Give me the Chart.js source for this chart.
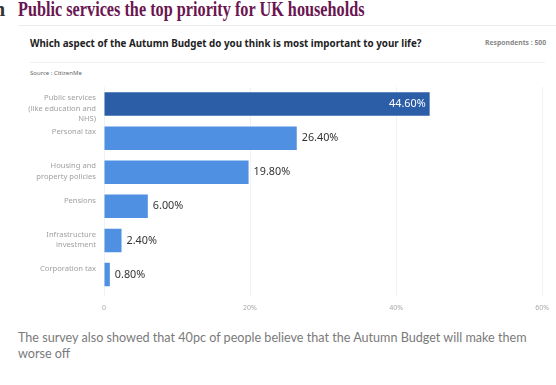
<!DOCTYPE html>
<html>
<head>
<meta charset="utf-8">
<script src="https://cdn.jsdelivr.net/npm/chart.js@4"></script>
<style>
html,body{margin:0;padding:0;background:#fff;width:556px;height:385px;overflow:hidden;position:relative;font-family:"Noto Sans",sans-serif;}
.abs{position:absolute;white-space:nowrap;}
#title{left:18px;top:-2px;font-family:"Liberation Serif",serif;font-weight:bold;font-size:20px;color:#6a1650;transform:scaleX(0.812);transform-origin:0 0;}
#cut{left:-6px;top:-2px;font-family:"Liberation Serif",serif;font-weight:bold;font-size:20px;color:#333;}
#rule1{left:18px;top:25px;width:538px;height:1px;background:#ececec;}
#sub{left:30px;top:37px;font-weight:bold;font-size:9.8px;color:#222;}
#resp{left:485px;top:38px;font-weight:bold;font-size:6.8px;color:#888;}
#rule2{left:30px;top:62px;width:515px;height:1px;background:#f0f0f0;}
#src{left:30px;top:69px;font-size:6px;color:#666;}
#cap{left:18px;top:330px;width:530px;font-family:"Lato",sans-serif;font-size:12.6px;line-height:16px;color:#7a7a7a;white-space:normal;}
#wrap{position:absolute;left:0;top:80px;width:556px;height:245px;}
</style>
</head>
<body>
<div class="abs" id="cut">n</div>
<div class="abs" id="title">Public services the top priority for UK households</div>
<div class="abs" id="rule1"></div>
<div class="abs" id="sub">Which aspect of the Autumn Budget do you think is most important to your life?</div>
<div class="abs" id="resp">Respondents : 500</div>
<div class="abs" id="rule2"></div>
<div class="abs" id="src">Source : CitizenMe</div>
<div class="abs" id="cap">The survey also showed that 40pc of people believe that the Autumn Budget will make them worse off</div>
<div id="wrap"><canvas id="c" width="556" height="245"></canvas></div>
<script>
const categories = [
  ["Public services", "(like education and", "NHS)"],
  ["Personal tax"],
  ["Housing and", "property policies"],
  ["Pensions"],
  ["Infrastructure", "investment"],
  ["Corporation tax"]
];
const values = [44.6, 26.4, 19.8, 6.0, 2.4, 0.8];
const valueLabels = ["44.60%", "26.40%", "19.80%", "6.00%", "2.40%", "0.80%"];
const xTicks = [0, 20, 40, 60];
const xTickLabels = ["0", "20%", "40%", "60%"];

const colors = values.map((v, i) => i === 0 ? "#2c5ea8" : "#4f90e2");

const labelPlugin = {
  id: "labels",
  afterDatasetsDraw(chart) {
    const ctx = chart.ctx;
    const y = chart.scales.y;
    const meta = chart.getDatasetMeta(0);
    ctx.save();
    ctx.font = '7.6px "Noto Sans", sans-serif';
    ctx.fillStyle = "#a0a0a0";
    ctx.textAlign = "right";
    ctx.textBaseline = "middle";
    categories.forEach((lines, i) => {
      const cy = y.getPixelForValue(i);
      lines.forEach((t, j) => {
        ctx.fillText(t, chart.chartArea.left - 8, cy - 6 + j * 10.5);
      });
    });
    ctx.font = '10.8px "Noto Sans", sans-serif';
    meta.data.forEach((bar, i) => {
      if (i === 0) {
        ctx.fillStyle = "#ffffff";
        ctx.textAlign = "right";
        ctx.fillText(valueLabels[i], bar.x - 4, bar.y);
      } else {
        ctx.fillStyle = "#333";
        ctx.textAlign = "left";
        ctx.fillText(valueLabels[i], bar.x + 5, bar.y);
      }
    });
    ctx.restore();
  }
};

new Chart(document.getElementById("c"), {
  type: "bar",
  data: {
    labels: categories.map(c => c.join(" ")),
    datasets: [{
      data: values,
      backgroundColor: colors,
      borderWidth: 0,
      barPercentage: 0.69,
      categoryPercentage: 1.0
    }]
  },
  options: {
    indexAxis: "y",
    responsive: false,
    animation: false,
    events: [],
    layout: { padding: { left: 104, right: 11, top: 7, bottom: 6 } },
    plugins: { legend: { display: false }, tooltip: { enabled: false } },
    scales: {
      x: {
        min: 0, max: 60,
        afterBuildTicks(s) { s.ticks = xTicks.map(v => ({ value: v })); },
        ticks: {
          callback: (v, i) => xTickLabels[i],
          font: { size: 7, family: '"Noto Sans", sans-serif' },
          color: "#aaa",
          padding: 7
        },
        grid: { color: "#f2f2f2", lineWidth: 1, drawTicks: true, tickLength: 5 },
        border: { display: false }
      },
      y: {
        display: false
      }
    }
  },
  plugins: [labelPlugin]
});
</script>
</body>
</html>
